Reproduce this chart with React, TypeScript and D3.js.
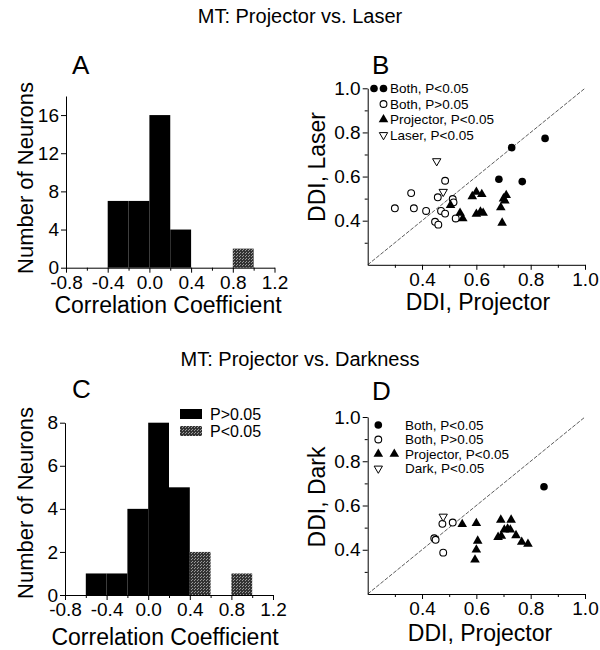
import React, { useEffect, useRef } from 'react';
import * as d3 from 'd3';

const FONT = '"Liberation Sans", Arial, Helvetica, sans-serif';

const titles = ['MT: Projector vs. Laser', 'MT: Projector vs. Darkness'];

// correlation histograms, bins are 0.2 wide
const histTicks = [-0.8, -0.4, 0.0, 0.4, 0.8, 1.2];
const histMinor = [-0.6, -0.2, 0.2, 0.6, 1.0];

const binStartA = [-0.4, -0.2, 0.0, 0.2, 0.8];
const countA = [7, 7, 16, 4, 2];
const sigA = [false, false, false, false, true];
const yTicksA = [0, 4, 8, 12, 16];

const binStartC = [-0.6, -0.4, -0.2, 0.0, 0.2, 0.4, 0.8];
const countC = [1, 1, 4, 8, 5, 2, 1];
const sigC = [false, false, false, false, false, true, true];
const yTicksC = [0, 2, 4, 6, 8];
const histLegend = ['P>0.05', 'P<0.05'];

// DDI scatter plots
const ddiTicks = [0.4, 0.6, 0.8, 1.0];
const ddiMinor = [0.3, 0.5, 0.7, 0.9];

const laserBothSig = [[0.683, 0.588], [0.73, 0.731], [0.769, 0.577], [0.853, 0.773]];
const laserBothNS = [
  [0.30, 0.456], [0.36, 0.525], [0.37, 0.456], [0.415, 0.444], [0.485, 0.581],
  [0.458, 0.506], [0.47, 0.444], [0.485, 0.432], [0.448, 0.395], [0.46, 0.382],
  [0.513, 0.498], [0.516, 0.483], [0.524, 0.41],
];
const laserProjSig = [
  [0.505, 0.47], [0.54, 0.435], [0.55, 0.41], [0.585, 0.51], [0.60, 0.53],
  [0.62, 0.52], [0.60, 0.43], [0.615, 0.44], [0.625, 0.435], [0.69, 0.46],
  [0.695, 0.39], [0.70, 0.50], [0.71, 0.515], [0.705, 0.49],
];
const laserOnlySig = [[0.454, 0.67], [0.478, 0.531]];
const laserLegend = ['Both, P<0.05', 'Both, P>0.05', 'Projector, P<0.05', 'Laser, P<0.05'];

const darkBothSig = [[0.849, 0.685]];
const darkBothNS = [[0.475, 0.517], [0.513, 0.523], [0.445, 0.452], [0.45, 0.445], [0.478, 0.387]];
const darkProjSig = [
  [0.548, 0.515], [0.60, 0.52], [0.605, 0.44], [0.60, 0.40], [0.595, 0.355],
  [0.69, 0.535], [0.728, 0.535], [0.68, 0.457], [0.692, 0.462], [0.703, 0.49],
  [0.715, 0.495], [0.725, 0.49], [0.746, 0.465], [0.767, 0.435], [0.79, 0.426],
];
const darkOnlySig = [[0.478, 0.55]];
const darkLegend = ['Both, P<0.05', 'Both, P>0.05', 'Projector, P<0.05', 'Dark, P<0.05'];

const styleAxis = (g, size) => {
  g.attr('font-family', FONT).attr('font-size', size);
  g.selectAll('line').attr('stroke', '#000');
  g.select('.domain').attr('stroke', '#000');
};

const drawSymbol = (g, kind, cx, cy) => {
  if (kind === 'dot') {
    g.append('circle').attr('cx', cx).attr('cy', cy).attr('r', 3.8).attr('fill', '#000');
  } else if (kind === 'ring') {
    g.append('circle').attr('cx', cx).attr('cy', cy).attr('r', 3.4)
      .attr('fill', '#fff').attr('stroke', '#000').attr('stroke-width', 1.1);
  } else if (kind === 'tri') {
    g.append('path').attr('d', d3.symbol(d3.symbolTriangle, 40)())
      .attr('transform', `translate(${cx},${cy})`).attr('fill', '#000');
  } else {
    g.append('path').attr('d', d3.symbol(d3.symbolTriangle, 30)())
      .attr('transform', `translate(${cx},${cy}) rotate(180)`)
      .attr('fill', '#fff').attr('stroke', '#000').attr('stroke-width', 1);
  }
};

const drawHist = (svg, b, starts, counts, sig, yMax, yTicks) => {
  const x = d3.scaleLinear().domain([-0.8, 1.2]).range([b.left, b.right]);
  const y = d3.scaleLinear().domain([0, yMax]).range([b.bottom, b.top]);

  svg.append('g').selectAll('rect').data(starts).join('rect')
    .attr('x', d => x(d))
    .attr('width', d => x(d + 0.2) - x(d))
    .attr('y', (d, i) => y(counts[i]))
    .attr('height', (d, i) => y(0) - y(counts[i]))
    .attr('fill', (d, i) => (sig[i] ? 'url(#stipple)' : '#000'));

  const gx = svg.append('g').attr('transform', `translate(0,${b.bottom})`)
    .call(d3.axisBottom(x).tickValues(histTicks).tickFormat(d => (+d).toFixed(1))
      .tickSize(5).tickSizeOuter(0).tickPadding(3));
  styleAxis(gx, 19);
  svg.append('g').attr('transform', `translate(0,${b.bottom})`)
    .call(d3.axisBottom(x).tickValues(histMinor).tickFormat(() => '').tickSize(3).tickSizeOuter(0))
    .call(g => g.select('.domain').remove());

  const gy = svg.append('g').attr('transform', `translate(${b.left},0)`)
    .call(d3.axisLeft(y).tickValues(yTicks).tickSize(5).tickSizeOuter(0).tickPadding(2));
  styleAxis(gy, 19);
};

const drawScatter = (svg, b, sets) => {
  const x = d3.scaleLinear().domain([0.2, 1.0]).range([b.left, b.right]);
  const y = d3.scaleLinear().domain([0.2, 1.0]).range([b.bottom, b.top]);

  svg.append('line')
    .attr('x1', x(0.2)).attr('y1', y(0.2)).attr('x2', x(1.0)).attr('y2', y(1.0))
    .attr('stroke', '#333').attr('stroke-width', 0.8).attr('stroke-dasharray', '4,1.5');

  const gx = svg.append('g').attr('transform', `translate(0,${b.bottom})`)
    .call(d3.axisBottom(x).tickValues(ddiTicks).tickFormat(d => (+d).toFixed(1))
      .tickSize(5).tickSizeOuter(0).tickPadding(3));
  styleAxis(gx, 19);
  svg.append('g').attr('transform', `translate(0,${b.bottom})`)
    .call(d3.axisBottom(x).tickValues(ddiMinor).tickFormat(() => '').tickSize(3).tickSizeOuter(0))
    .call(g => g.select('.domain').remove());

  const gy = svg.append('g').attr('transform', `translate(${b.left},0)`)
    .call(d3.axisLeft(y).tickValues(ddiTicks).tickFormat(d => (+d).toFixed(1))
      .tickSize(5).tickSizeOuter(0).tickPadding(2));
  styleAxis(gy, 19);
  svg.append('g').attr('transform', `translate(${b.left},0)`)
    .call(d3.axisLeft(y).tickValues(ddiMinor).tickFormat(() => '').tickSize(3).tickSizeOuter(0))
    .call(g => g.select('.domain').remove());

  const pts = svg.append('g');
  sets.forEach(([kind, data]) => {
    data.forEach(d => drawSymbol(pts, kind, x(d[0]), y(d[1])));
  });
};

const addText = (svg, txt, x, y, size, anchor = 'middle', rotate = false) => {
  svg.append('text')
    .attr('transform', rotate ? `translate(${x},${y}) rotate(-90)` : `translate(${x},${y})`)
    .attr('text-anchor', anchor)
    .attr('font-family', FONT)
    .attr('font-size', size)
    .attr('fill', '#000')
    .text(txt);
};

const App = () => {
  const ref = useRef(null);

  useEffect(() => {
    const svg = d3.select(ref.current);
    svg.selectAll('*').remove();

    const pat = svg.append('defs').append('pattern')
      .attr('id', 'stipple').attr('width', 3).attr('height', 3)
      .attr('patternUnits', 'userSpaceOnUse');
    pat.append('rect').attr('width', 3).attr('height', 3).attr('fill', '#333');
    pat.append('rect').attr('x', 0).attr('y', 0).attr('width', 1).attr('height', 1).attr('fill', '#999');
    pat.append('rect').attr('x', 2).attr('y', 1).attr('width', 1).attr('height', 1).attr('fill', '#999');

    // titles and panel letters
    addText(svg, titles[0], 300, 23, 20);
    addText(svg, titles[1], 300, 366, 20);
    addText(svg, 'A', 72, 74, 26, 'start');
    addText(svg, 'B', 372, 74, 26, 'start');
    addText(svg, 'C', 72, 398, 26, 'start');
    addText(svg, 'D', 372, 400, 26, 'start');

    // A
    drawHist(svg, { left: 66, right: 274.5, top: 96, bottom: 267.7 }, binStartA, countA, sigA, 18, yTicksA);
    addText(svg, 'Number of Neurons', 33, 178, 22, 'middle', true);
    addText(svg, 'Correlation Coefficient', 168, 313, 23);

    // C
    drawHist(svg, { left: 65, right: 273, top: 422.7, bottom: 595 }, binStartC, countC, sigC, 8, yTicksC);
    addText(svg, 'Number of Neurons', 33, 503, 22, 'middle', true);
    addText(svg, 'Correlation Coefficient', 165, 645, 23);
    svg.append('rect').attr('x', 180).attr('y', 409).attr('width', 22).attr('height', 10).attr('fill', '#000');
    svg.append('rect').attr('x', 180).attr('y', 426).attr('width', 22).attr('height', 10).attr('fill', 'url(#stipple)');
    addText(svg, histLegend[0], 210, 420, 16, 'start');
    addText(svg, histLegend[1], 210, 437, 16, 'start');

    // B
    drawScatter(svg, { left: 367.7, right: 585, top: 88.3, bottom: 264.8 }, [
      ['ring', laserBothNS], ['itri', laserOnlySig], ['tri', laserProjSig], ['dot', laserBothSig],
    ]);
    addText(svg, 'DDI, Laser', 325, 167, 23, 'middle', true);
    addText(svg, 'DDI, Projector', 478, 310, 23);
    const kinds = ['dot', 'ring', 'tri', 'itri'];
    const legB = svg.append('g');
    drawSymbol(legB, 'dot', 374, 88.5);
    laserLegend.forEach((t, i) => {
      const cy = 88.5 + i * 15.5;
      drawSymbol(legB, kinds[i], 383.5, cy);
      legB.append('text').attr('x', 390).attr('y', cy).attr('dy', '0.36em')
        .attr('font-family', FONT).attr('font-size', 13.5).text(t);
    });

    // D
    drawScatter(svg, { left: 367.7, right: 585, top: 417, bottom: 594 }, [
      ['ring', darkBothNS], ['itri', darkOnlySig], ['tri', darkProjSig], ['dot', darkBothSig],
    ]);
    addText(svg, 'DDI, Dark', 325, 497, 23, 'middle', true);
    addText(svg, 'DDI, Projector', 480, 641, 23);
    const legD = svg.append('g');
    drawSymbol(legD, 'tri', 394.3, 454);
    darkLegend.forEach((t, i) => {
      const cy = 425 + i * 14.5;
      drawSymbol(legD, kinds[i], 378.3, cy);
      legD.append('text').attr('x', 405).attr('y', cy).attr('dy', '0.36em')
        .attr('font-family', FONT).attr('font-size', 13.5).text(t);
    });
  }, []);

  return (
    <svg ref={ref} width="600" height="650"
      style={{ position: 'absolute', left: 0, top: 0, background: '#fff' }} />
  );
};

export default App;
